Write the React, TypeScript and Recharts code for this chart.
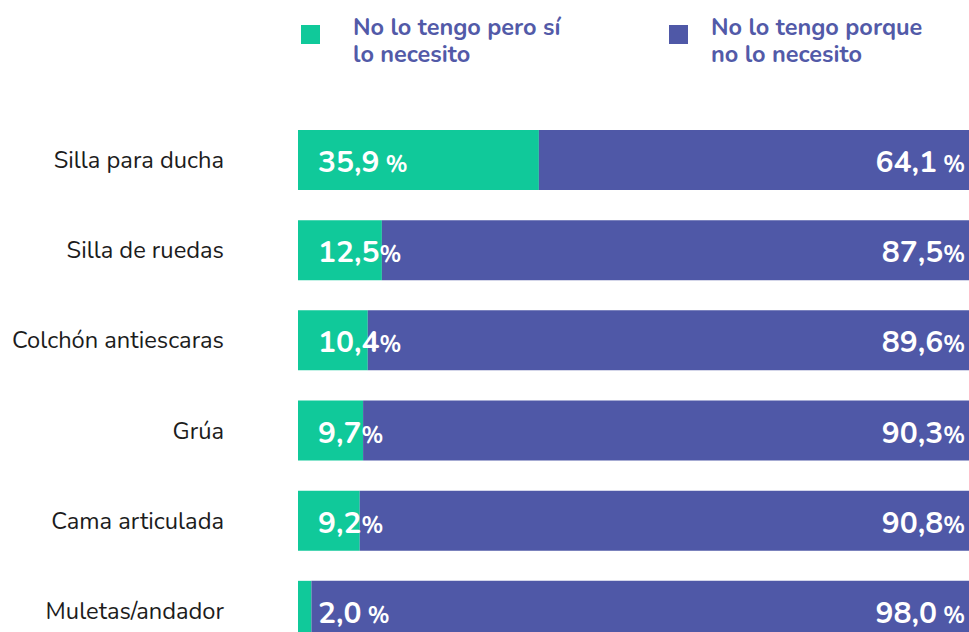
import React from "react";
import { BarChart, Bar, XAxis, YAxis, Legend, LabelList } from "recharts";

const categories = [
  "Silla para ducha",
  "Silla de ruedas",
  "Colchón antiescaras",
  "Grúa",
  "Cama articulada",
  "Muletas/andador",
];
const needValues = [35.9, 12.5, 10.4, 9.7, 9.2, 2.0];
const noNeedValues = [64.1, 87.5, 89.6, 90.3, 90.8, 98.0];
const needSpaceBeforePct = [true, false, false, false, false, true];
const noNeedSpaceBeforePct = [true, false, false, false, false, true];
const seriesNames = ["No lo tengo pero sí lo necesito", "No lo tengo porque no lo necesito"];
const legendLines = [
  ["No lo tengo pero sí", "lo necesito"],
  ["No lo tengo porque", "no lo necesito"],
];

const GREEN = "#10c99a";
const BLUE = "#4f58a7";
const FONT = "'Nunito', 'Open Sans', sans-serif";

const data = categories.map((name, i) => ({
  name,
  need: needValues[i],
  noNeed: noNeedValues[i],
}));

const fmt = (v: number) => v.toFixed(1).replace(".", ",");

const CategoryTick = (props: any) => {
  const { x, y, payload } = props;
  return (
    <text
      x={x - 72}
      y={y}
      textAnchor="end"
      dominantBaseline="central"
      fontFamily={FONT}
      fontSize={23.7}
      fill="#1c1c1c"
    >
      {payload.value}
    </text>
  );
};

const makeLabel = (side: "left" | "right") => (props: any) => {
  const { x, y, width, height, index } = props;
  const value = side === "left" ? needValues[index] : noNeedValues[index];
  const space = side === "left" ? needSpaceBeforePct[index] : noNeedSpaceBeforePct[index];
  const tx = side === "left" ? Number(x) + 20 : Number(x) + Number(width) - 4;
  const ty = Number(y) + Number(height) / 2 + 12;
  return (
    <text
      x={tx}
      y={ty}
      textAnchor={side === "left" ? "start" : "end"}
      fontFamily={FONT}
      fontWeight={700}
      fill="#ffffff"
    >
      <tspan fontSize={30}>{fmt(value)}</tspan>
      <tspan fontSize={23}>{space ? " %" : "%"}</tspan>
    </text>
  );
};

const LegendContent = () => {
  const colors = [GREEN, BLUE];
  const squareLeft = [301, 669];
  const textLeft = [353, 711];
  return (
    <div style={{ position: "relative", width: 969, height: 70 }}>
      {seriesNames.map((n, i) => (
        <React.Fragment key={n}>
          <div
            style={{
              position: "absolute",
              left: squareLeft[i],
              top: 25,
              width: 19,
              height: 19,
              background: colors[i],
            }}
          />
          {legendLines[i].map((line, j) => (
            <div
              key={line}
              style={{
                position: "absolute",
                left: textLeft[i],
                top: 14 + j * 27,
                height: 27,
                fontFamily: FONT,
                fontSize: 23.5,
                fontWeight: 700,
                lineHeight: "27px",
                color: "#525aa8",
                whiteSpace: "nowrap",
                textAlign: "left",
              }}
            >
              {line}
            </div>
          ))}
        </React.Fragment>
      ))}
    </div>
  );
};

export default function App() {
  return (
    <div
      style={{
        position: "absolute",
        left: 0,
        top: 0,
        width: 969,
        height: 632,
        overflow: "hidden",
        background: "#ffffff",
      }}
    >
      <BarChart
        width={969}
        height={680}
        data={data}
        layout="vertical"
        margin={{ top: 45, right: 0, bottom: 24, left: 0 }}
        barSize={60}
      >
        <XAxis type="number" domain={[0, 100]} hide />
        <YAxis
          type="category"
          dataKey="name"
          width={298}
          axisLine={false}
          tickLine={false}
          tickSize={0}
          tick={<CategoryTick />}
          interval={0}
        />
        <Legend
          verticalAlign="top"
          align="left"
          height={70}
          wrapperStyle={{ top: 0, left: 0, width: 969, height: 70 }}
          content={<LegendContent />}
        />
        <Bar dataKey="need" name={seriesNames[0]} stackId="a" fill={GREEN} isAnimationActive={false}>
          <LabelList dataKey="need" content={makeLabel("left")} />
        </Bar>
        <Bar dataKey="noNeed" name={seriesNames[1]} stackId="a" fill={BLUE} isAnimationActive={false}>
          <LabelList dataKey="noNeed" content={makeLabel("right")} />
        </Bar>
      </BarChart>
    </div>
  );
}
